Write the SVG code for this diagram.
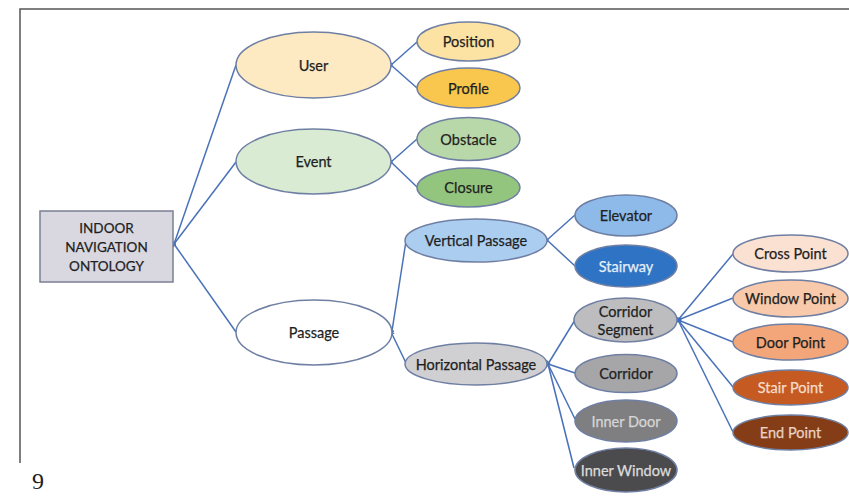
<svg xmlns="http://www.w3.org/2000/svg" width="849" height="497" viewBox="0 0 849 497">
<defs>
<marker id="ah" viewBox="0 0 6 6" refX="1" refY="3" markerWidth="5" markerHeight="5" orient="auto-start-reverse" markerUnits="userSpaceOnUse">
<path d="M0,0 L6,3 L0,6 z" fill="#4a72b8"/>
</marker>
<style>
.n{stroke:#6f7fa3;stroke-width:1.5}
.t{font-family:Lato,"Liberation Sans",sans-serif;font-size:14.5px;fill:#1f1f1f;text-anchor:middle;dominant-baseline:central;stroke:#1f1f1f;stroke-width:0.25}
.c line{stroke:#4a72b8;stroke-width:1.5;marker-start:url(#ah)}
</style>
</defs>
<rect width="849" height="497" fill="#ffffff"/>
<g id="frame" fill="none" stroke="#555" stroke-width="1.5">
<path d="M20,463 L20,9 L849,9"/>
</g>
<text x="32" y="489" font-family="'Liberation Serif',serif" font-size="24" fill="#222">9</text>

<g class="c" id="connectors">
<line x1="174" y1="244" x2="236" y2="65"/>
<line x1="174" y1="244" x2="236" y2="162"/>
<line x1="174" y1="244" x2="236" y2="332"/>
<line x1="391" y1="65" x2="417" y2="42"/>
<line x1="391" y1="65" x2="417" y2="88"/>
<line x1="391" y1="162" x2="417" y2="139"/>
<line x1="391" y1="162" x2="417" y2="187"/>
<line x1="392" y1="331" x2="406" y2="241"/>
<line x1="392" y1="334" x2="406" y2="363"/>
<line x1="547" y1="240" x2="575" y2="215"/>
<line x1="547" y1="240" x2="575" y2="266"/>
<line x1="548" y1="364" x2="575" y2="320"/>
<line x1="548" y1="364" x2="575" y2="373"/>
<line x1="548" y1="364" x2="575" y2="419"/>
<line x1="548" y1="364" x2="574" y2="468"/>
<line x1="678" y1="320" x2="733" y2="254"/>
<line x1="678" y1="320" x2="733" y2="298"/>
<line x1="678" y1="320" x2="733" y2="342"/>
<line x1="678" y1="320" x2="733" y2="387"/>
<line x1="678" y1="320" x2="733" y2="432"/>
<circle cx="679" cy="320" r="2.5" fill="#3d6cc0" stroke="none"/>
</g>

<g id="root">
<rect x="40" y="211" width="133" height="71" fill="#d9d8e0" stroke="#7a7f94" stroke-width="1.5"/>
<text class="t" style="font-size:13.5px" x="106.5" y="228">INDOOR</text>
<text class="t" style="font-size:13.5px" x="106.5" y="247">NAVIGATION</text>
<text class="t" style="font-size:13.5px" x="106.5" y="266">ONTOLOGY</text>
</g>

<g id="user"><ellipse class="n" cx="313.5" cy="65" rx="77.5" ry="33" fill="#fde9c2"/><text class="t" x="313.5" y="65">User</text></g>
<g id="event"><ellipse class="n" cx="313.5" cy="161.5" rx="77.5" ry="32.5" fill="#d9ecd3"/><text class="t" x="313.5" y="161.5">Event</text></g>
<g id="passage"><ellipse class="n" cx="314" cy="332.5" rx="78" ry="32.5" fill="#ffffff"/><text class="t" x="314" y="332.5">Passage</text></g>

<g id="position"><ellipse class="n" cx="468.5" cy="41.5" rx="51.5" ry="19.5" fill="#fde3a3"/><text class="t" x="468.5" y="41.5">Position</text></g>
<g id="profile"><ellipse class="n" cx="468.5" cy="88" rx="51.5" ry="20" fill="#f9c74e"/><text class="t" x="468.5" y="88">Profile</text></g>
<g id="obstacle"><ellipse class="n" cx="468.5" cy="139" rx="51.5" ry="21.5" fill="#b8d8aa"/><text class="t" x="468.5" y="139">Obstacle</text></g>
<g id="closure"><ellipse class="n" cx="468.5" cy="187.5" rx="51.5" ry="19.5" fill="#93c57f"/><text class="t" x="468.5" y="187.5">Closure</text></g>

<g id="vertical-passage"><ellipse class="n" cx="476" cy="240.5" rx="71" ry="21.5" fill="#abcdf0"/><text class="t" x="476" y="240.5">Vertical Passage</text></g>
<g id="horizontal-passage"><ellipse class="n" cx="476" cy="364" rx="71" ry="21" fill="#d0d0d2"/><text class="t" x="476" y="364">Horizontal Passage</text></g>

<g id="elevator"><ellipse class="n" cx="626" cy="215.5" rx="51" ry="20.5" fill="#8dbae8"/><text class="t" x="626" y="215.5">Elevator</text></g>
<g id="stairway"><ellipse class="n" cx="626" cy="266" rx="51" ry="21" fill="#2f74c4"/><text class="t" x="626" y="266" style="fill:#e6eef9;stroke:#e6eef9">Stairway</text></g>

<g id="corridor-segment"><ellipse class="n" cx="625.5" cy="320" rx="51.5" ry="22" fill="#bdbdbf"/><text class="t" x="625.5" y="311">Corridor</text><text class="t" x="625.5" y="329">Segment</text></g>
<g id="corridor"><ellipse class="n" cx="626" cy="373.5" rx="51" ry="19" fill="#a6a6a8"/><text class="t" x="626" y="373.5">Corridor</text></g>
<g id="inner-door"><ellipse class="n" cx="626" cy="421" rx="51" ry="21" fill="#7f7f81"/><text class="t" x="626" y="421" style="fill:#d6d6d6;stroke:#d6d6d6">Inner Door</text></g>
<g id="inner-window"><ellipse class="n" cx="626" cy="470" rx="51" ry="22" fill="#4b4b4d"/><text class="t" x="626" y="470" style="fill:#dcdcdc;stroke:#dcdcdc">Inner Window</text></g>

<g id="cross-point"><ellipse class="n" cx="790.5" cy="253.5" rx="57.5" ry="18.5" fill="#fbe1d2"/><text class="t" x="790.5" y="253.5">Cross Point</text></g>
<g id="window-point"><ellipse class="n" cx="790.5" cy="298.5" rx="57.5" ry="18.5" fill="#f8caab"/><text class="t" x="790.5" y="298.5">Window Point</text></g>
<g id="door-point"><ellipse class="n" cx="790.5" cy="342" rx="57.5" ry="18" fill="#f4a67b"/><text class="t" x="790.5" y="342">Door Point</text></g>
<g id="stair-point"><ellipse class="n" cx="790.5" cy="387.5" rx="57.5" ry="17.5" fill="#c55b22"/><text class="t" x="790.5" y="387.5" style="fill:#f6dccb;stroke:#f6dccb">Stair Point</text></g>
<g id="end-point"><ellipse class="n" cx="790.5" cy="432.5" rx="57.5" ry="17.5" fill="#843d16"/><text class="t" x="790.5" y="432.5" style="fill:#ead2c4;stroke:#ead2c4">End Point</text></g>
</svg>
